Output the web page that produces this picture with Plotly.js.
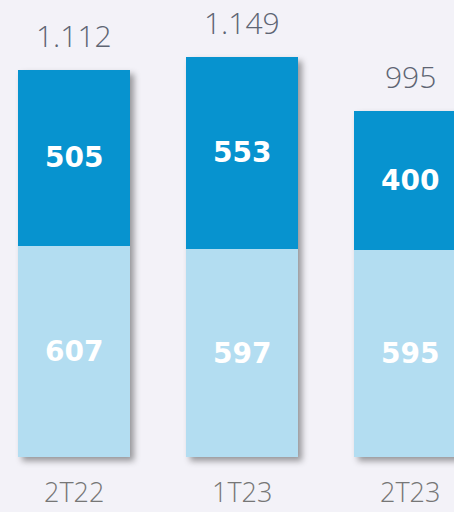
<!DOCTYPE html>
<html>
<head>
<meta charset="utf-8">
<script src="https://cdn.plot.ly/plotly-3.0.1.min.js"></script>
<style>
  html, body { margin: 0; padding: 0; background: #f3f2f8; }
  #chart { width: 454px; height: 512px; }
  .barlayer { filter: drop-shadow(4px 4px 3px rgba(0,0,0,0.38)); }
</style>
</head>
<body>
<div id="chart"></div>
<script>
const categories = ['2T22', '1T23', '2T23'];
const lowerValues = [607, 597, 595];
const upperValues = [505, 553, 400];
const totals = [1112, 1149, 995];

function fmt(n) {
  return String(n).replace(/\B(?=(\d{3})+(?!\d))/g, '.');
}

const darkBlue = '#0793cf';
const lightBlue = '#b3ddf1';

const traces = [
  { type: 'bar', x: categories, y: lowerValues, marker: { color: lightBlue, line: { width: 0 } }, width: 0.667, hoverinfo: 'skip' },
  { type: 'bar', x: categories, y: upperValues, marker: { color: darkBlue, line: { width: 0 } }, width: 0.667, hoverinfo: 'skip' }
];

const annotations = [];
categories.forEach((c, i) => {
  annotations.push({ x: c, y: lowerValues[i] / 2, text: '<b>' + lowerValues[i] + '</b>', showarrow: false,
    font: { family: 'DejaVu Sans', size: 28, color: '#ffffff' }, xanchor: 'center', yanchor: 'middle' });
  annotations.push({ x: c, y: lowerValues[i] + upperValues[i] / 2, text: '<b>' + upperValues[i] + '</b>', showarrow: false,
    font: { family: 'DejaVu Sans', size: 28, color: '#ffffff' }, xanchor: 'center', yanchor: 'middle' });
  annotations.push({ x: c, y: totals[i], text: fmt(totals[i]), showarrow: false, yshift: 12,
    font: { family: 'Open Sans', size: 30, color: '#5e6573', weight: 300 }, xanchor: 'center', yanchor: 'bottom' });
  annotations.push({ x: c, y: 0, text: c, showarrow: false, yshift: -34,
    font: { family: 'Open Sans', size: 27, color: '#767676', weight: 300 }, xanchor: 'center', yanchor: 'middle' });
});

const layout = {
  width: 454, height: 512,
  margin: { l: 0, r: 0, t: 0, b: 0, pad: 0 },
  paper_bgcolor: '#f3f2f8', plot_bgcolor: '#f3f2f8',
  barmode: 'stack',
  showlegend: false,
  xaxis: { range: [-0.4405, 2.2619], showgrid: false, zeroline: false, showticklabels: false, showline: false, fixedrange: true },
  yaxis: { range: [-158, 1313], showgrid: false, zeroline: false, showticklabels: false, showline: false, fixedrange: true },
  annotations: annotations
};

Plotly.newPlot('chart', traces, layout, { staticPlot: true, displayModeBar: false });
</script>
</body>
</html>
